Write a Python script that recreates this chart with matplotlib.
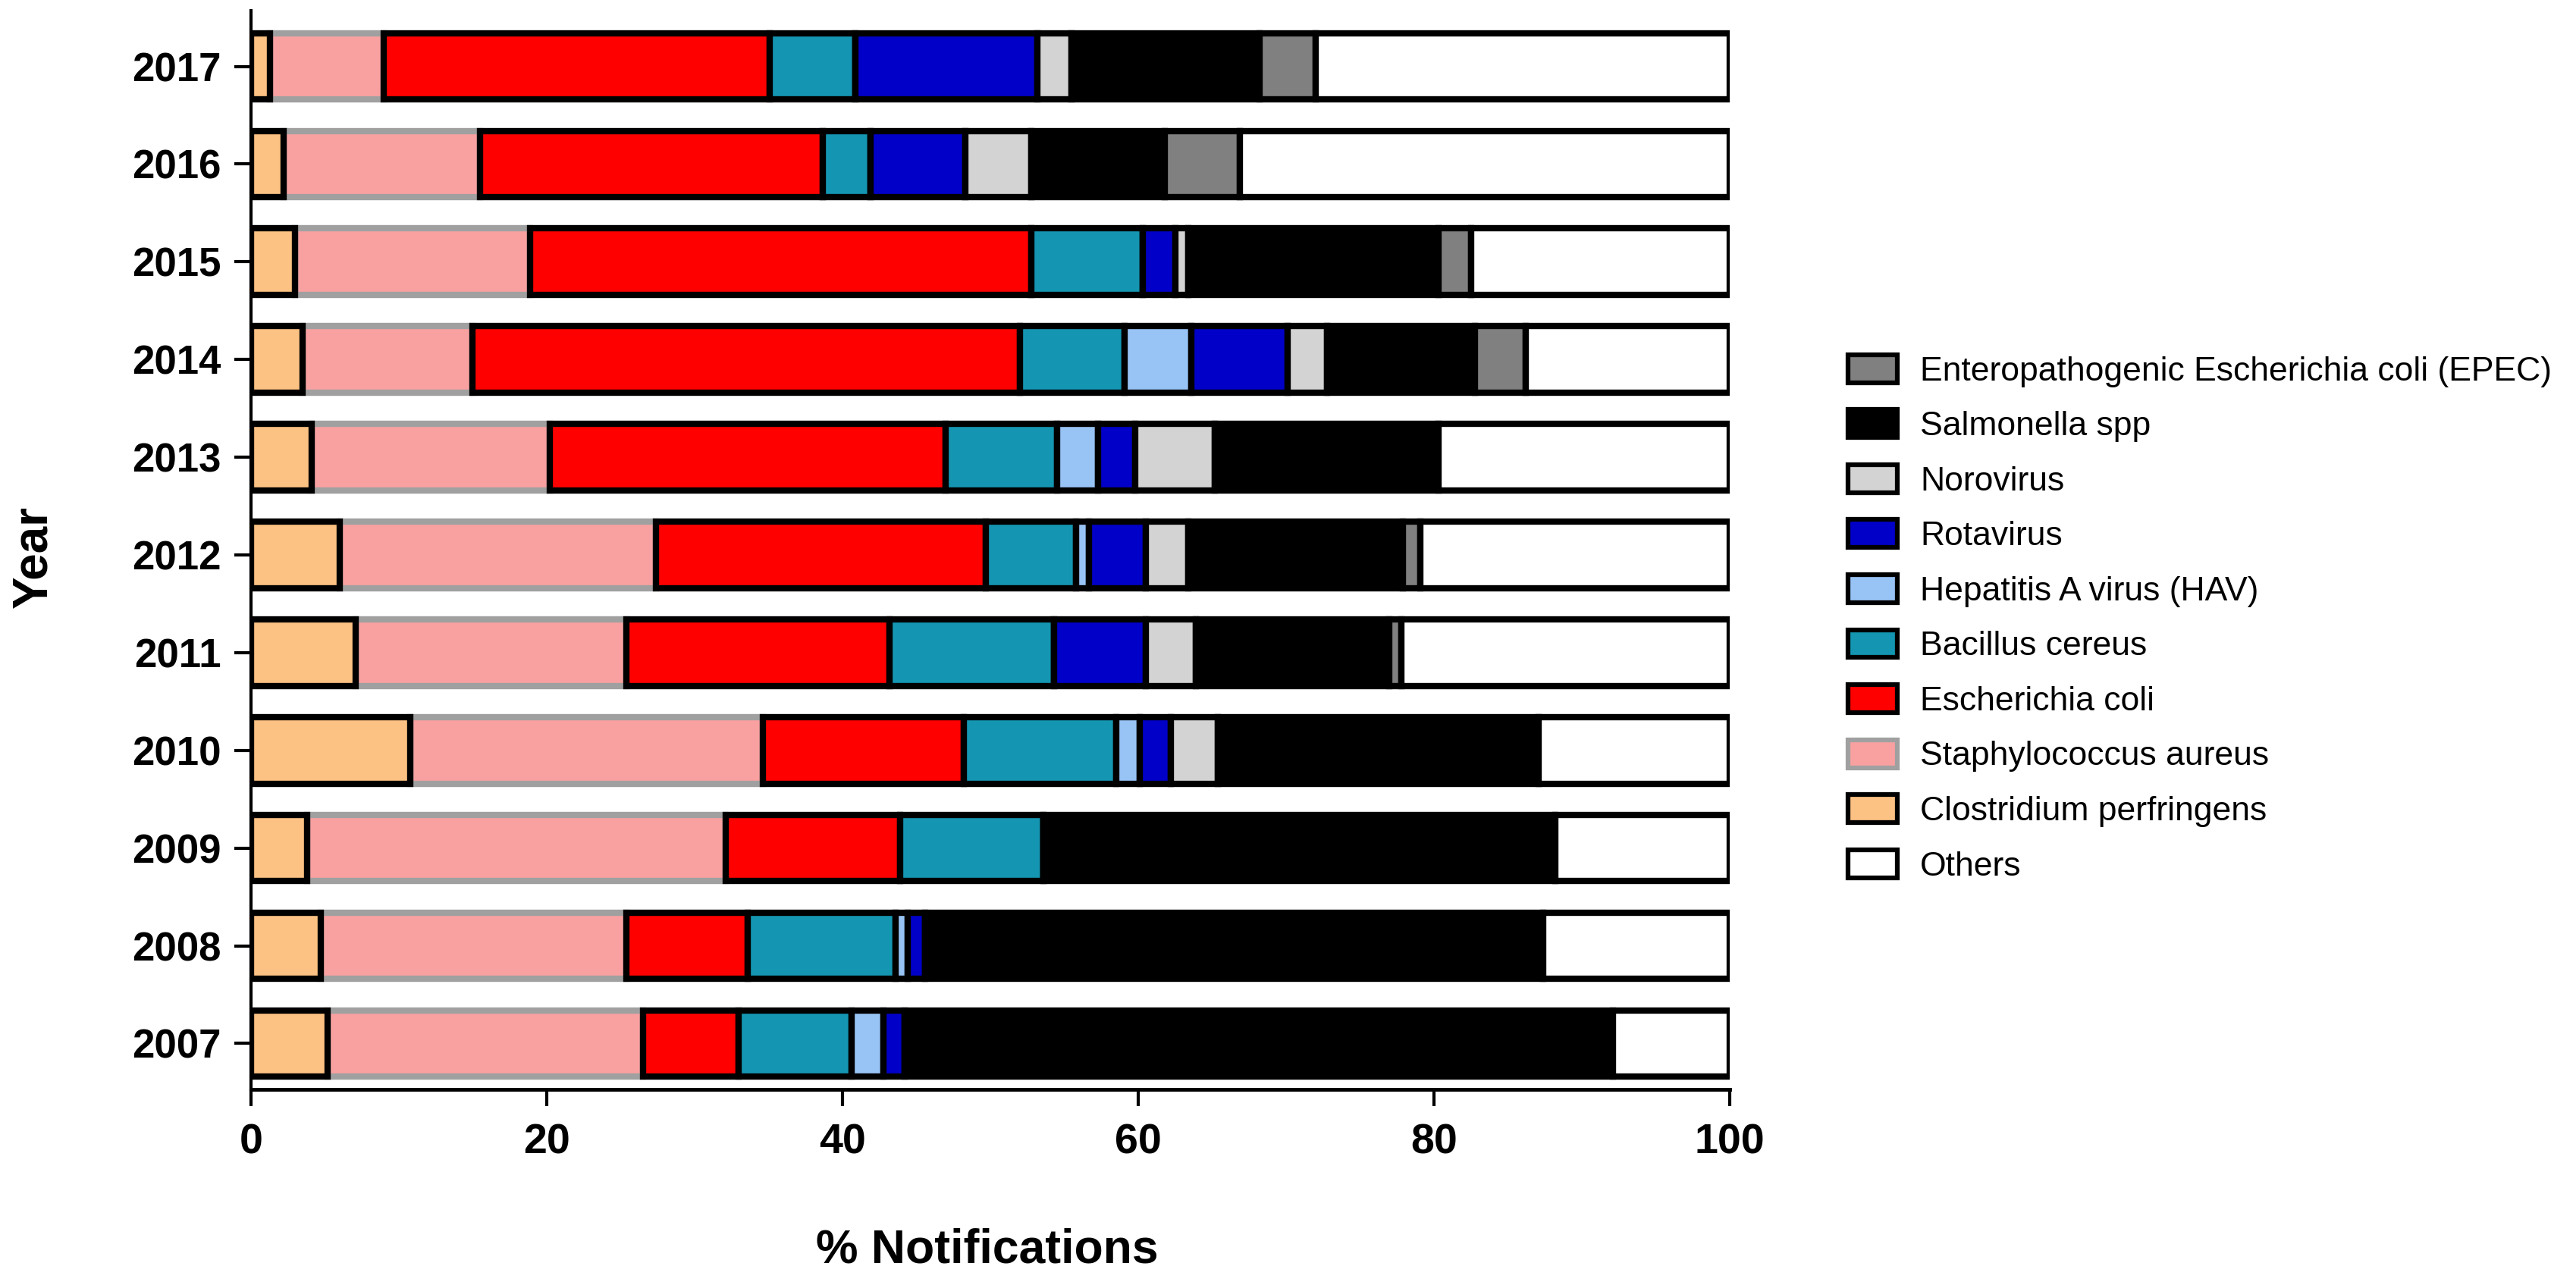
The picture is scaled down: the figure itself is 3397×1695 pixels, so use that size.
import numpy as np
import matplotlib
matplotlib.use("Agg")
import matplotlib.pyplot as plt
from matplotlib.patches import Patch

plt.rcParams["font.family"] = ["Liberation Sans", "DejaVu Sans"]

# --- data (percent of notifications per year) ------------------------------
years = ["2007", "2008", "2009", "2010", "2011", "2012",
         "2013", "2014", "2015", "2016", "2017"]

c_perfringens = [5.2, 4.7, 3.8, 10.8, 7.1, 6.0, 4.1, 3.5, 3.0, 2.2, 1.3]
s_aureus = [21.3, 20.7, 28.3, 23.8, 18.3, 21.4, 16.1, 11.5, 15.9, 13.3, 7.7]
e_coli = [6.5, 8.2, 11.8, 13.6, 17.8, 22.3, 26.8, 37.0, 33.9, 23.2, 26.1]
b_cereus = [7.6, 10.0, 9.7, 10.3, 11.1, 6.1, 7.5, 7.1, 7.5, 3.2, 5.8]
hav = [2.2, 0.8, 0.0, 1.6, 0.0, 0.9, 2.8, 4.5, 0.0, 0.0, 0.0]
rotavirus = [1.4, 1.2, 0.0, 2.1, 6.2, 3.8, 2.5, 6.5, 2.2, 6.4, 12.3]
norovirus = [0.0, 0.0, 0.0, 3.2, 3.4, 2.9, 5.4, 2.7, 0.9, 4.5, 2.3]
salmonella = [47.9, 41.8, 34.6, 21.7, 13.1, 14.5, 15.1, 10.0, 16.9, 9.0, 12.7]
epec = [0.0, 0.0, 0.0, 0.0, 0.8, 1.2, 0.0, 3.4, 2.2, 5.1, 3.8]
others = [7.9, 12.6, 11.8, 12.9, 22.2, 20.9, 19.7, 13.8, 17.5, 33.1, 28.0]

series = [
    ("Clostridium perfringens", c_perfringens, "#FCC283", "black"),
    ("Staphylococcus aureus", s_aureus, "#F9A0A0", "#A0A0A0"),
    ("Escherichia coli", e_coli, "#FF0000", "black"),
    ("Bacillus cereus", b_cereus, "#1496B2", "black"),
    ("Hepatitis A virus (HAV)", hav, "#98C3F5", "black"),
    ("Rotavirus", rotavirus, "#0000C8", "black"),
    ("Norovirus", norovirus, "#D3D3D3", "black"),
    ("Salmonella spp", salmonella, "black", "black"),
    ("Enteropathogenic Escherichia coli (EPEC)", epec, "#808080", "black"),
    ("Others", others, "white", "black"),
]
legend_order = [8, 7, 6, 5, 4, 3, 2, 1, 0, 9]

# --- figure ----------------------------------------------------------------
fig = plt.figure(figsize=(33.97, 16.95), dpi=100)
ax = fig.add_axes([0.0974, 0.1522, 0.5740, 0.8395])

y = np.arange(len(years))
left = np.zeros(len(years))
for i, (name, vals, face, edge) in enumerate(series):
    vals = np.asarray(vals)
    # S. aureus has a grey outline: draw it underneath the black outlines
    z = 1 if edge != "black" else 2
    ax.barh(y, vals, left=left, height=0.68, color=face, edgecolor=edge,
            linewidth=6, zorder=z)
    left += vals

ax.set_xlim(0, 100)
ax.set_ylim(-0.47, 10.57)
ax.set_xticks([0, 20, 40, 60, 80, 100])
ax.set_yticks(y)
ax.set_yticklabels(years)

for side in ("top", "right"):
    ax.spines[side].set_visible(False)
ax.spines["left"].set_linewidth(3)
ax.spines["bottom"].set_linewidth(3.5)
ax.tick_params(axis="x", length=16, width=3, pad=16, labelsize=40)
ax.tick_params(axis="y", length=16, width=3, pad=12, labelsize=38)
for lab in ax.get_xticklabels() + ax.get_yticklabels():
    lab.set_fontweight("bold")

ax.set_xlabel("% Notifications", fontsize=45, fontweight="bold")
ax.set_ylabel("Year", fontsize=46, fontweight="bold")
ax.xaxis.set_label_coords(0.498, -0.149)
ax.xaxis.label.set_va("center")
ax.yaxis.set_label_coords(-0.147, 0.494)
ax.yaxis.label.set_va("center")

handles = []
labels = []
for k in legend_order:
    name, _, face, edge = series[k]
    handles.append(Patch(facecolor=face, edgecolor=edge, linewidth=4.5))
    labels.append(name)
ax.legend(handles, labels, loc="upper left",
          bbox_to_anchor=(0.7174, 0.724), bbox_transform=fig.transFigure,
          frameon=False, fontsize=32, handlelength=1.46, handleheight=0.9,
          handletextpad=0.68, labelspacing=0.67, borderpad=0,
          borderaxespad=0)

fig.savefig("out.png", dpi=100)
